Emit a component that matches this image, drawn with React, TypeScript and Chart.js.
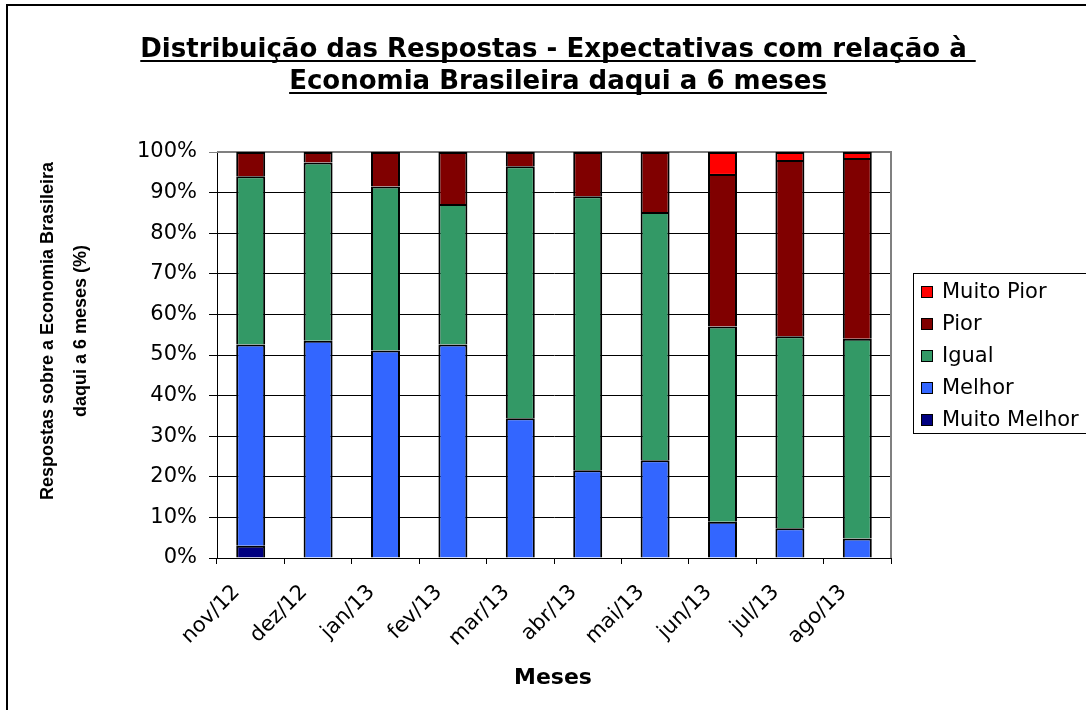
import React, { useEffect, useRef } from "react";
import { Chart, registerables } from "chart.js";

Chart.register(...registerables);

const months = ["nov/12", "dez/12", "jan/13", "fev/13", "mar/13", "abr/13", "mai/13", "jun/13", "jul/13", "ago/13"];
const muitoMelhor = [3.0, 0, 0, 0, 0, 0, 0, 0, 0, 0];
const melhor = [49.6, 53.5, 51.1, 52.6, 34.4, 21.6, 24.1, 8.9, 7.3, 4.8];
const igual = [41.4, 43.9, 40.4, 34.6, 62.1, 67.5, 61.1, 48.1, 47.3, 49.2];
const pior = [6.0, 2.6, 8.5, 12.8, 3.5, 10.9, 14.8, 37.6, 43.4, 44.5];
const muitoPior = [0, 0, 0, 0, 0, 0, 0, 5.4, 2.0, 1.5];
const yTicks = [0, 10, 20, 30, 40, 50, 60, 70, 80, 90, 100];

const titleLines = ["Distribuição das Respostas - Expectativas com relação à ", "Economia Brasileira daqui a 6 meses"];
const yTitleLines = ["Respostas sobre a Economia Brasileira", "daqui a 6 meses (%)"];
const xTitle = "Meses";

const W = 1086;
const H = 710;

const decor = {
  id: "decor",
  beforeDatasetsDraw(chart: any) {
    const { ctx, chartArea } = chart;
    ctx.save();
    ctx.strokeStyle = "#808080";
    ctx.lineWidth = 2;
    ctx.beginPath();
    ctx.moveTo(chartArea.left, chartArea.top);
    ctx.lineTo(chartArea.right, chartArea.top);
    ctx.lineTo(chartArea.right, chartArea.bottom);
    ctx.stroke();
    ctx.restore();
  },
  afterDraw(chart: any) {
    const { ctx } = chart;
    ctx.save();
    // outer border
    ctx.strokeStyle = "#000";
    ctx.lineWidth = 2;
    ctx.beginPath();
    ctx.moveTo(7, H + 10);
    ctx.lineTo(7, 5);
    ctx.lineTo(W + 10, 5);
    ctx.stroke();

    // title
    ctx.fillStyle = "#000";
    ctx.font = 'bold 26px "DejaVu Sans"';
    ctx.textAlign = "left";
    ctx.textBaseline = "alphabetic";
    const baselines = [57, 89];
    titleLines.forEach((t, i) => {
      const w = ctx.measureText(t).width;
      const x0 = 558 - w / 2;
      ctx.fillText(t, x0, baselines[i]);
      ctx.fillRect(x0, baselines[i] + 3, w, 2);
    });

    // y title
    ctx.font = 'bold 18px "Liberation Sans"';
    ctx.textAlign = "center";
    ctx.textBaseline = "middle";
    ctx.save();
    ctx.translate(48, 331);
    ctx.rotate(-Math.PI / 2);
    ctx.fillText(yTitleLines[0], 0, 0);
    ctx.fillText(yTitleLines[1], 0, 33);
    ctx.restore();

    // x title
    ctx.font = 'bold 22px "DejaVu Sans"';
    ctx.textAlign = "center";
    ctx.textBaseline = "alphabetic";
    ctx.fillText(xTitle, 553, 684);

    // legend
    ctx.lineWidth = 1;
    ctx.strokeStyle = "#000";
    ctx.strokeRect(913.5, 273.5, 250, 160);
    const items = [...chart.data.datasets].reverse();
    ctx.font = '21px "DejaVu Sans"';
    ctx.textAlign = "left";
    ctx.textBaseline = "middle";
    items.forEach((ds: any, i: number) => {
      const cy = 292 + i * 32;
      ctx.fillStyle = ds.backgroundColor;
      ctx.fillRect(921, cy - 6, 12, 12);
      ctx.strokeRect(921.5, cy - 5.5, 11, 11);
      ctx.fillStyle = "#000";
      ctx.fillText(ds.label, 942, cy + 1);
    });
    ctx.restore();
  },
};

export default function App() {
  const ref = useRef<HTMLCanvasElement | null>(null);
  useEffect(() => {
    if (!ref.current) return;
    const mk = (label: string, data: number[], color: string) => ({
      label,
      data,
      backgroundColor: color,
      borderColor: "#000",
      borderWidth: 2,
      borderSkipped: "start",
      barPercentage: 0.43,
      categoryPercentage: 1.0,
    });
    const chart = new Chart(ref.current, {
      type: "bar",
      data: {
        labels: months,
        datasets: [
          mk("Muito Melhor", muitoMelhor, "#000080"),
          mk("Melhor", melhor, "#3366FF"),
          mk("Igual", igual, "#339966"),
          mk("Pior", pior, "#800000"),
          mk("Muito Pior", muitoPior, "#FF0000"),
        ] as any,
      },
      options: {
        animation: false,
        responsive: false,
        devicePixelRatio: 1,
        layout: { padding: { top: 152, right: W - 891, left: 0, bottom: 0 } },
        plugins: {
          legend: { display: false },
          title: { display: false },
          tooltip: { enabled: false },
        },
        scales: {
          x: {
            stacked: true,
            grid: { offset: true, drawOnChartArea: false, color: "#000", tickLength: 6, lineWidth: 1 },
            border: { color: "#000", width: 1 },
            ticks: {
              color: "#000",
              font: { family: "DejaVu Sans", size: 21 },
              maxRotation: 45,
              minRotation: 45,
              autoSkip: false,
              labelOffset: -14,
              padding: 16,
            },
            afterFit: (s: any) => {
              s.height = H - 558;
            },
          },
          y: {
            stacked: true,
            min: 0,
            max: 100,
            afterBuildTicks: (s: any) => {
              s.ticks = yTicks.map((v) => ({ value: v }));
            },
            grid: {
              color: (c: any) => (c.tick && c.tick.value === 100 ? "#808080" : "#000"),
              lineWidth: 1,
              tickLength: 8,
            },
            border: { color: "#000", width: 1 },
            ticks: {
              color: "#000",
              font: { family: "DejaVu Sans", size: 21 },
              padding: 12,
              callback: (v: any) => v + "%",
            },
            afterFit: (s: any) => {
              s.width = 217;
            },
          },
        },
      } as any,
      plugins: [decor],
    });
    return () => chart.destroy();
  }, []);
  return (
    <div style={{ position: "fixed", left: 0, top: 0, width: W, height: H, background: "#fff" }}>
      <canvas ref={ref} width={W} height={H} style={{ width: W, height: H, display: "block" }} />
    </div>
  );
}
